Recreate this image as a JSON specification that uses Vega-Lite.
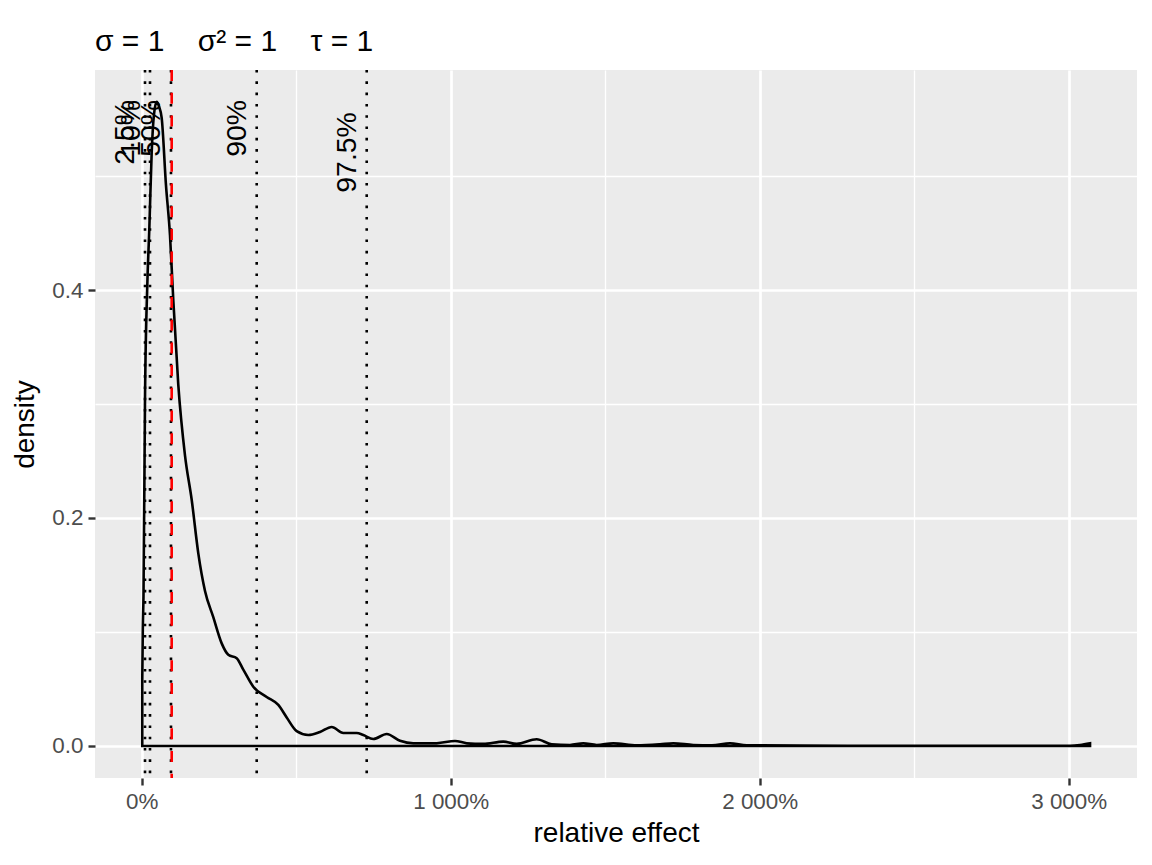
{
  "$schema": "https://vega.github.io/schema/vega-lite/v6.json",
  "width": 1042,
  "height": 708,
  "autosize": {"type": "none"},
  "padding": {"left": 95, "top": 70, "right": 15, "bottom": 87},
  "background": "white",
  "config": {
    "view": {"fill": "#EBEBEB", "stroke": null},
    "font": "Liberation Sans",
    "title": {"fontSize": 30, "font": "Liberation Sans", "fontWeight": "normal", "color": "black"}
  },
  "title": {
    "text": "σ = 1\u00a0\u00a0\u00a0\u00a0σ² = 1\u00a0\u00a0\u00a0\u00a0τ = 1",
    "anchor": "start",
    "frame": "group",
    "font": "Liberation Sans",
    "fontSize": 30,
    "fontWeight": "normal",
    "color": "black",
    "baseline": "alphabetic",
    "offset": 20,
    "dy": 32
  },
  "datasets": {
    "density": [
      {"x": 0.019, "density": 0.058},
      {"x": 0.036, "density": 0.102},
      {"x": 0.058, "density": 0.131},
      {"x": 0.107, "density": 0.304},
      {"x": 0.181, "density": 0.404},
      {"x": 0.246, "density": 0.453},
      {"x": 0.324, "density": 0.521},
      {"x": 0.398, "density": 0.554},
      {"x": 0.485, "density": 0.565},
      {"x": 0.560, "density": 0.561},
      {"x": 0.647, "density": 0.551},
      {"x": 0.786, "density": 0.492},
      {"x": 0.916, "density": 0.448},
      {"x": 1.023, "density": 0.391},
      {"x": 1.184, "density": 0.317},
      {"x": 1.401, "density": 0.255},
      {"x": 1.618, "density": 0.216},
      {"x": 1.832, "density": 0.169},
      {"x": 2.049, "density": 0.136},
      {"x": 2.317, "density": 0.113},
      {"x": 2.589, "density": 0.090},
      {"x": 2.803, "density": 0.080},
      {"x": 3.074, "density": 0.077},
      {"x": 3.288, "density": 0.067},
      {"x": 3.612, "density": 0.052},
      {"x": 4.045, "density": 0.043},
      {"x": 4.421, "density": 0.036},
      {"x": 4.693, "density": 0.025},
      {"x": 5.016, "density": 0.013},
      {"x": 5.392, "density": 0.0096},
      {"x": 5.770, "density": 0.0123},
      {"x": 6.149, "density": 0.0167},
      {"x": 6.524, "density": 0.0114},
      {"x": 6.958, "density": 0.0114},
      {"x": 7.172, "density": 0.0096},
      {"x": 7.495, "density": 0.0061},
      {"x": 7.929, "density": 0.0105},
      {"x": 8.359, "density": 0.0046},
      {"x": 8.790, "density": 0.0024},
      {"x": 9.547, "density": 0.0024},
      {"x": 10.139, "density": 0.0044},
      {"x": 10.518, "density": 0.0024},
      {"x": 11.055, "density": 0.0018},
      {"x": 11.702, "density": 0.0038},
      {"x": 12.136, "density": 0.0018},
      {"x": 12.783, "density": 0.0059},
      {"x": 13.269, "density": 0.0015},
      {"x": 13.861, "density": 0.0009},
      {"x": 14.291, "density": 0.0024},
      {"x": 14.725, "density": 0.0009},
      {"x": 15.262, "density": 0.0024},
      {"x": 16.019, "density": 0.0006},
      {"x": 16.773, "density": 0.0015},
      {"x": 17.204, "density": 0.0024},
      {"x": 17.851, "density": 0.0009},
      {"x": 18.456, "density": 0.0006},
      {"x": 19.039, "density": 0.0024},
      {"x": 19.579, "density": 0.0006},
      {"x": 21.304, "density": 0.0003},
      {"x": 24.540, "density": 0.0002},
      {"x": 27.777, "density": 0.0002},
      {"x": 30.042, "density": 0.0002},
      {"x": 30.366, "density": 0.0009},
      {"x": 30.690, "density": 0.0024}
    ],
    "quantiles": [
      {"label": "2.5%", "value": 0.107, "labelY": 0.5667},
      {"label": "10%", "value": 0.269, "labelY": 0.5667},
      {"label": "50%", "value": 0.948, "labelY": 0.5667},
      {"label": "90%", "value": 3.722, "labelY": 0.5667},
      {"label": "97.5%", "value": 7.282, "labelY": 0.556}
    ],
    "reference": [
      {"value": 0.971}
    ]
  },
  "layer": [
    {
      "data": {"name": "density"},
      "mark": {
        "type": "area",
        "fill": "transparent",
        "stroke": "black",
        "strokeWidth": 2.6,
        "interpolate": "monotone"
      },
      "encoding": {
        "x": {
          "field": "x",
          "type": "quantitative",
          "scale": {"domain": [-1.511, 32.21], "nice": false, "zero": false},
          "axis": {
            "title": "relative effect",
            "values": [0, 5, 10, 15, 20, 25, 30],
            "labelExpr": "datum.value % 10 == 0 ? replace(format(datum.value, ',.0%'), ',', ' ') : ''",
            "labelOverlap": false,
            "labelFlush": false,
            "grid": true,
            "gridColor": "white",
            "gridWidth": {"condition": {"test": "datum.value % 10 == 0", "value": 2.7}, "value": 1.35},
            "tickColor": {"condition": {"test": "datum.value % 10 == 0", "value": "#333333"}, "value": "transparent"},
            "tickSize": 7,
            "tickWidth": 2.4,
            "domain": false,
            "labelFont": "Liberation Sans",
            "labelFontSize": 22.4,
            "labelColor": "#4D4D4D",
            "labelPadding": 5,
            "titleFont": "Liberation Sans",
            "titleFontSize": 28,
            "titleColor": "black",
            "titleFontWeight": "normal",
            "titlePadding": 7
          }
        },
        "y": {
          "field": "density",
          "type": "quantitative",
          "scale": {"domain": [-0.0281, 0.593], "nice": false, "zero": false},
          "axis": {
            "title": "density",
            "values": [0, 0.1, 0.2, 0.3, 0.4, 0.5],
            "labelExpr": "abs(datum.value * 5 - round(datum.value * 5)) < 0.000001 ? format(datum.value, '.1f') : ''",
            "labelOverlap": false,
            "labelFlush": false,
            "grid": true,
            "gridColor": "white",
            "gridWidth": {"condition": {"test": "abs(datum.value * 5 - round(datum.value * 5)) < 0.000001", "value": 2.7}, "value": 1.35},
            "tickColor": {"condition": {"test": "abs(datum.value * 5 - round(datum.value * 5)) < 0.000001", "value": "#333333"}, "value": "transparent"},
            "tickSize": 7,
            "tickWidth": 2.4,
            "domain": false,
            "labelFont": "Liberation Sans",
            "labelFontSize": 22.4,
            "labelColor": "#4D4D4D",
            "labelPadding": 5,
            "titleFont": "Liberation Sans",
            "titleFontSize": 28,
            "titleColor": "black",
            "titleFontWeight": "normal",
            "titlePadding": 12
          }
        }
      }
    },
    {
      "data": {"name": "quantiles"},
      "mark": {"type": "rule", "color": "black", "strokeWidth": 2.6, "strokeDash": [2.6, 8.7]},
      "encoding": {
        "x": {"field": "value", "type": "quantitative"}
      }
    },
    {
      "data": {"name": "reference"},
      "mark": {"type": "rule", "color": "#FF0000", "strokeWidth": 2.6, "strokeDash": [11, 11.7]},
      "encoding": {
        "x": {"field": "value", "type": "quantitative"}
      }
    },
    {
      "data": {"name": "quantiles"},
      "mark": {
        "type": "text",
        "angle": 270,
        "align": "right",
        "baseline": "alphabetic",
        "dy": -10.5,
        "font": "Liberation Sans",
        "fontSize": 28.4,
        "color": "black"
      },
      "encoding": {
        "x": {"field": "value", "type": "quantitative"},
        "y": {"field": "labelY", "type": "quantitative"},
        "text": {"field": "label", "type": "nominal"}
      }
    }
  ]
}
